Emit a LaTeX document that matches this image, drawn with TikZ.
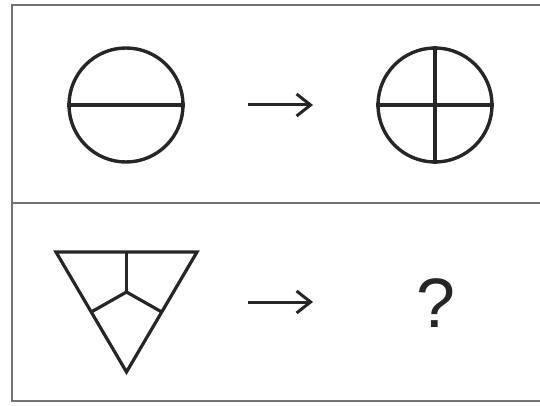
\documentclass[tikz,border=0pt]{standalone}
\usepackage{fontspec}
\setsansfont{Liberation Sans}
\usetikzlibrary{positioning, arrows.meta, calc}

\begin{document}
\begin{tikzpicture}[x=1pt, y=1pt, node distance=309pt, on grid,
    ring/.style={circle, draw=black!85, line width=3.4pt, minimum size=114pt, inner sep=0pt},
    fig/.style={draw=black!85, line width=3.2pt, line join=miter},
    arr/.style={-{Straight Barb[length=14pt, width=22pt]}, draw=black!85, line width=3pt},
    frame/.style={draw=black!55, line width=2.2pt}]
   \useasboundingbox (0,0) rectangle (540,405);
   \draw[frame] (12,4) rectangle (548,400);
   \draw[frame] (12,202) -- (548,202);
   % top row
   \node[ring] (c_1) at (126,300) {};
   \node[ring] (c_2) [right=of c_1] {};
   \draw[fig] (c_1.west) -- (c_1.east);
   \draw[fig] (c_2.west) -- (c_2.east);
   \draw[fig] (c_2.north) -- (c_2.south);
   \coordinate (a_1) at (248,300);
   \coordinate (b_1) at (313,300);
   \draw[arr] (a_1) -- (b_1);
   % bottom row
   \coordinate (t_l) at (56,153);
   \coordinate (t_r) at (197,153);
   \coordinate (t_b) at (126.5,33);
   \coordinate (t_c) at (126.5,113);
   \draw[fig] (t_l) -- (t_r) -- (t_b) -- cycle;
   \draw[fig] (t_c) -- ($(t_l)!0.5!(t_r)$);
   \draw[fig] (t_c) -- ($(t_l)!0.5!(t_b)$);
   \draw[fig] (t_c) -- ($(t_r)!0.5!(t_b)$);
   \coordinate (a_2) at (248,103);
   \coordinate (b_2) at (313,103);
   \draw[arr] (a_2) -- (b_2);
   \node[text=black!85] (q) at (436,102) {\sffamily\fontsize{70}{80}\selectfont ?};
\end{tikzpicture}
\end{document}
